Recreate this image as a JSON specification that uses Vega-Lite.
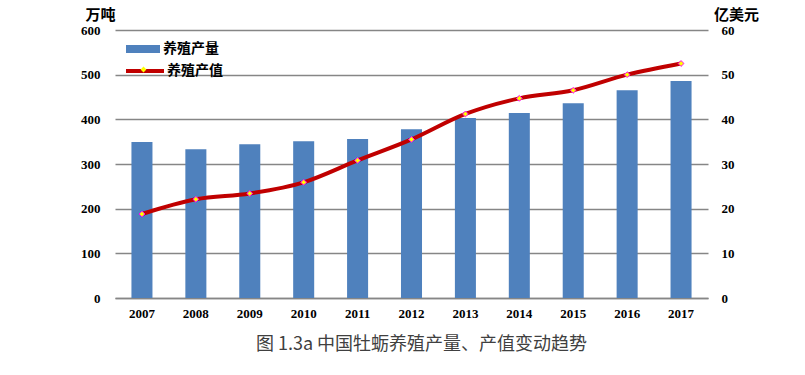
{
  "$schema": "https://vega.github.io/schema/vega-lite/v6.json",
  "width": 593,
  "height": 268,
  "autosize": {"type": "none"},
  "padding": {"left": 115, "top": 30, "right": 97, "bottom": 77},
  "background": "white",
  "config": {"view": {"stroke": null}, "font": "'Liberation Serif', 'Times New Roman', serif"},
  "title": {"text": "图 1.3a   中国牡蛎养殖产量、产值变动趋势", "orient": "bottom", "anchor": "middle", "font": "Noto Sans CJK SC", "fontSize": 18, "fontWeight": "normal", "color": "#404040", "offset": 16, "dx": 10},
  "data": {"values": [
    {"year": "2007", "output": 349, "value": 18.8},
    {"year": "2008", "output": 333, "value": 22.1},
    {"year": "2009", "output": 344, "value": 23.4},
    {"year": "2010", "output": 351, "value": 25.9},
    {"year": "2011", "output": 356, "value": 30.8},
    {"year": "2012", "output": 378, "value": 35.5},
    {"year": "2013", "output": 403, "value": 41.2},
    {"year": "2014", "output": 414, "value": 44.7},
    {"year": "2015", "output": 436, "value": 46.5},
    {"year": "2016", "output": 465, "value": 50.0},
    {"year": "2017", "output": 486, "value": 52.5}
  ]},
  "encoding": {
    "x": {"field": "year", "type": "ordinal", "scale": {"paddingInner": 0.61, "paddingOuter": 0.305},
      "axis": {"title": null, "labelAngle": 0, "labelFont": "'Liberation Serif', 'Times New Roman', serif", "labelFontSize": 13, "labelFontWeight": "bold", "labelColor": "#000000", "ticks": false, "domain": true, "domainColor": "#868686", "domainWidth": 1.3, "labelPadding": 9}}
  },
  "layer": [
    {
      "mark": {"type": "bar", "color": "#4F81BD"},
      "encoding": {
        "y": {"field": "output", "type": "quantitative", "scale": {"domain": [0, 600]},
          "axis": {"values": [0, 100, 200, 300, 400, 500, 600], "title": "万吨", "titleAngle": 0, "titleX": -15, "titleY": -8, "titleAlign": "center", "titleBaseline": "bottom", "titleFont": "Noto Sans CJK SC", "titleFontSize": 15, "titleFontWeight": "bold", "titleColor": "#000000", "labelFont": "'Liberation Serif', 'Times New Roman', serif", "labelFontSize": 13, "labelFontWeight": "bold", "labelColor": "#000000", "labelPadding": 15, "ticks": false, "domain": false, "grid": true, "gridColor": "#868686", "gridWidth": 1.3}},
        "fill": {"datum": "养殖产量", "scale": {"range": ["#4F81BD"]},
          "legend": {"title": null, "orient": "none", "legendX": 11, "legendY": 2, "padding": 0, "symbolType": "M-1,-0.235H1V0.235H-1Z", "symbolSize": 1156, "symbolStrokeWidth": 0, "labelOffset": 3, "labelFont": "Noto Sans CJK SC", "labelFontSize": 14, "labelFontWeight": "bold", "labelColor": "#000000"}}
      }
    },
    {
      "mark": {"type": "line", "color": "#C00000", "strokeWidth": 4, "interpolate": "monotone"},
      "encoding": {
        "y": {"field": "value", "type": "quantitative", "scale": {"domain": [0, 60]},
          "axis": {"orient": "right", "values": [0, 10, 20, 30, 40, 50, 60], "title": "亿美元", "titleAngle": 0, "titleX": 28, "titleY": -8, "titleAlign": "center", "titleBaseline": "bottom", "titleFont": "Noto Sans CJK SC", "titleFontSize": 15, "titleFontWeight": "bold", "titleColor": "#000000", "labelFont": "'Liberation Serif', 'Times New Roman', serif", "labelFontSize": 13, "labelFontWeight": "bold", "labelColor": "#000000", "labelPadding": 13, "ticks": false, "domain": false, "grid": false}},
        "stroke": {"datum": "养殖产值", "scale": {"range": ["#C00000"]},
          "legend": {"title": null, "orient": "none", "legendX": 9, "legendY": 20, "padding": 0, "symbolType": "stroke", "symbolSize": 1444, "symbolStrokeWidth": 4, "labelOffset": 1, "labelFont": "Noto Sans CJK SC", "labelFontSize": 14, "labelFontWeight": "bold", "labelColor": "#000000"}}
      }
    },
    {
      "mark": {"type": "point", "filled": true, "fill": "#FFFF00", "stroke": "#FF00FF", "strokeWidth": 1, "size": 34, "opacity": 1},
      "encoding": {
        "y": {"field": "value", "type": "quantitative", "scale": {"domain": [0, 60]}, "axis": null},
        "shape": {"datum": "marker", "scale": {"range": ["diamond"]},
          "legend": {"title": null, "orient": "none", "legendX": 25, "legendY": 36, "padding": 0, "symbolSize": 34, "symbolFillColor": "#FFFF00", "symbolStrokeColor": "#FF00FF", "symbolStrokeWidth": 1, "symbolOpacity": 1, "labelExpr": "''", "labelFontSize": 1}}
      }
    }
  ],
  "resolve": {"scale": {"y": "independent"}}
}
